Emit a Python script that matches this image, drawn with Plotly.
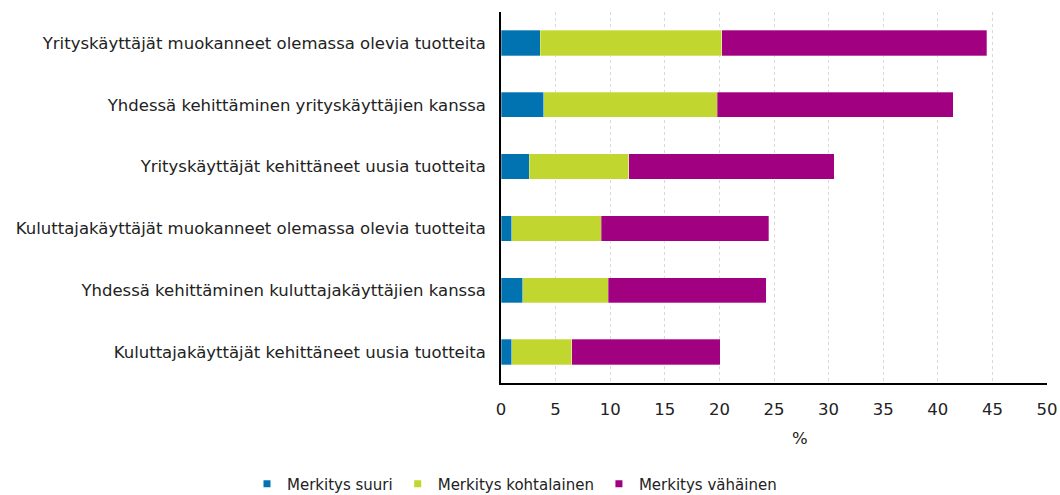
import plotly.graph_objects as go

categories = [
    "Yrityskäyttäjät muokanneet olemassa olevia tuotteita",
    "Yhdessä kehittäminen yrityskäyttäjien kanssa",
    "Yrityskäyttäjät kehittäneet uusia tuotteita",
    "Kuluttajakäyttäjät muokanneet olemassa olevia tuotteita",
    "Yhdessä kehittäminen kuluttajakäyttäjien kanssa",
    "Kuluttajakäyttäjät kehittäneet uusia tuotteita",
]
suuri = [3.6, 3.9, 2.6, 1.0, 2.0, 1.0]
kohtalainen = [16.6, 15.9, 9.1, 8.2, 7.8, 5.5]
vahainen = [24.3, 21.6, 18.8, 15.3, 14.5, 13.6]
series_names = ["Merkitys suuri", "Merkitys kohtalainen", "Merkitys vähäinen"]
colors = ["#0073b0", "#c1d72f", "#a10080"]
x_ticks = list(range(0, 55, 5))

FONT = "DejaVu Sans, Verdana, sans-serif"
FS = 16.5

fig = go.Figure()
for name, vals, col in zip(series_names, [suuri, kohtalainen, vahainen], colors):
    fig.add_trace(go.Bar(
        y=categories, x=vals, name=name, orientation="h", showlegend=False,
        marker=dict(color=col, line=dict(color="rgba(255,255,255,0.6)", width=0.5)),
    ))
# legend entries with small square swatches
for name, col in zip(series_names, colors):
    fig.add_trace(go.Scatter(
        x=[None], y=[None], mode="markers", name=name, showlegend=True,
        marker=dict(symbol="square", size=7, color=col),
    ))

W, H = 1060, 495
L, R, T, B = 501, 13, 12, 112
PW, PH = W - L - R, H - T - B

fig.update_layout(
    barmode="stack",
    bargap=0.59,
    width=W, height=H,
    autosize=False,
    margin=dict(l=L, r=R, t=T, b=B),
    paper_bgcolor="white", plot_bgcolor="white",
    font=dict(family=FONT, size=FS, color="#222222"),
    showlegend=True,
    legend=dict(orientation="h", x=247 / W, xanchor="left", xref="container",
                y=(H - 484) / H, yanchor="middle", yref="container", traceorder="normal",
                font=dict(size=15), itemclick=False),
    annotations=[dict(text="%", x=(800 - L) / PW, xref="paper",
                      y=(T + PH - 438) / PH, yref="paper", yanchor="middle",
                      showarrow=False, font=dict(size=FS))],
)
fig.update_yaxes(autorange="reversed", showline=True, linecolor="black", linewidth=1.5,
                 ticks="", ticklabelstandoff=10, showgrid=False, automargin=False)
fig.update_xaxes(range=[0, 50], tickvals=x_ticks, showline=True, linecolor="black", linewidth=1.5,
                 showgrid=True, gridcolor="#d9d9d9", gridwidth=1, griddash="dot",
                 ticks="", ticklabelstandoff=10, zeroline=False, automargin=False)

fig.write_html("out.html",
               config={"responsive": False, "displayModeBar": False},
               post_script="document.body.style.margin='0';")
